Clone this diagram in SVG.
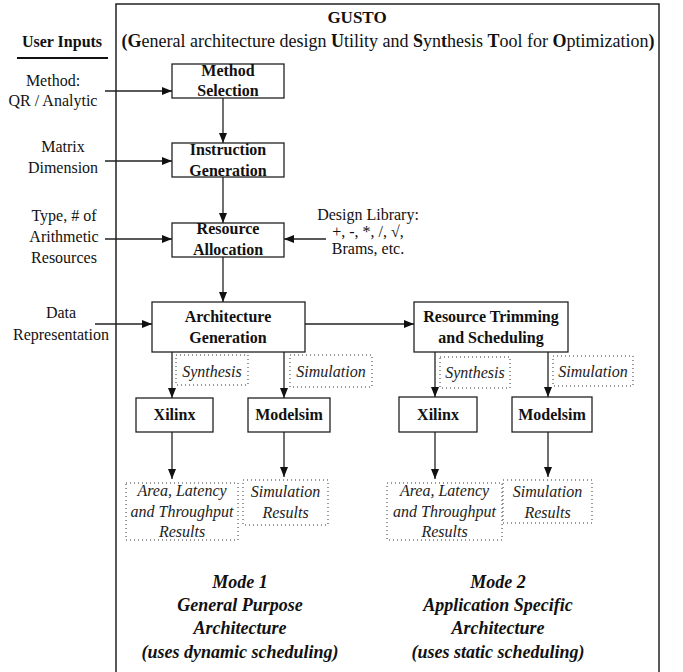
<svg xmlns="http://www.w3.org/2000/svg" width="683" height="672" viewBox="0 0 683 672">
<style>
text{font-family:"Liberation Serif","Times New Roman",serif;fill:#111;}
.n{font-size:16px;}
.b{font-size:16px;font-weight:bold;}
.i{font-size:16px;font-style:italic;fill:#222;}
.m{font-size:18px;font-weight:bold;font-style:italic;}
.bx{fill:#fff;stroke:#222;stroke-width:1.3;}
.dot{fill:none;stroke:#333;stroke-width:1;stroke-dasharray:1 3;}
.c{fill:none;stroke:#222;stroke-width:1.3;}
</style>
<defs>
<marker id="ah" markerUnits="userSpaceOnUse" markerWidth="10" markerHeight="8" refX="10" refY="4" orient="auto">
<path d="M0,0 L10,4 L0,8 z" fill="#111"/>
</marker>
</defs>
<rect width="683" height="672" fill="#fff"/>
<path d="M116,673 V4 H659 V673" fill="none" stroke="#222" stroke-width="1.5"/>
<g id="title">
<text x="357" y="23" text-anchor="middle" style="font-size:17px;font-weight:bold">GUSTO</text>
<text x="388" y="47" text-anchor="middle" style="font-size:18px"><tspan font-weight="bold">(G</tspan>eneral architecture design <tspan font-weight="bold">U</tspan>tility and <tspan font-weight="bold">S</tspan>yn<tspan font-weight="bold">t</tspan>hesis <tspan font-weight="bold">T</tspan>ool for <tspan font-weight="bold">O</tspan>ptimization<tspan font-weight="bold">)</tspan></text>
</g>
<g id="user-inputs">
<text x="62" y="47" text-anchor="middle" class="b">User Inputs</text>
<line x1="17" y1="58" x2="108" y2="58" stroke="#111" stroke-width="2"/>
<text x="53" y="86" text-anchor="middle" class="n">Method:</text>
<text x="53" y="106" text-anchor="middle" class="n">QR / Analytic</text>
<text x="63" y="152" text-anchor="middle" class="n">Matrix</text>
<text x="63" y="173" text-anchor="middle" class="n">Dimension</text>
<text x="64" y="221" text-anchor="middle" class="n">Type, # of</text>
<text x="64" y="242" text-anchor="middle" class="n">Arithmetic</text>
<text x="64" y="263" text-anchor="middle" class="n">Resources</text>
<text x="61" y="318" text-anchor="middle" class="n">Data</text>
<text x="61" y="340" text-anchor="middle" class="n">Representation</text>
</g>
<g id="design-library">
<text x="368" y="220" text-anchor="middle" class="n">Design Library:</text>
<text x="368" y="237" text-anchor="middle" class="n">+, -, *, /, √,</text>
<text x="368" y="254" text-anchor="middle" class="n">Brams, etc.</text>
</g>
<g id="method-selection">
<rect x="172" y="64" width="112" height="34" class="bx"/>
<text x="228" y="76" text-anchor="middle" class="b">Method</text>
<text x="228" y="96" text-anchor="middle" class="b">Selection</text>
</g>
<g id="instruction-generation">
<rect x="172" y="143" width="112" height="34" class="bx"/>
<text x="228" y="155" text-anchor="middle" class="b">Instruction</text>
<text x="228" y="176" text-anchor="middle" class="b">Generation</text>
</g>
<g id="resource-allocation">
<rect x="172" y="223" width="112" height="34" class="bx"/>
<text x="228" y="234" text-anchor="middle" class="b">Resource</text>
<text x="228" y="255" text-anchor="middle" class="b">Allocation</text>
</g>
<g id="architecture-generation">
<rect x="152" y="302" width="153" height="50" class="bx"/>
<text x="228" y="322" text-anchor="middle" class="b">Architecture</text>
<text x="228" y="343" text-anchor="middle" class="b">Generation</text>
</g>
<g id="resource-trimming">
<rect x="414" y="302" width="154" height="50" class="bx"/>
<text x="491" y="322" text-anchor="middle" class="b">Resource Trimming</text>
<text x="491" y="343" text-anchor="middle" class="b">and Scheduling</text>
</g>
<g id="synthesis-1">
<rect x="176" y="355" width="72" height="30" class="dot"/>
<text x="212" y="377" text-anchor="middle" class="i">Synthesis</text>
</g>
<g id="simulation-1">
<rect x="290" y="355" width="82" height="32" class="dot"/>
<text x="331" y="377" text-anchor="middle" class="i">Simulation</text>
</g>
<g id="synthesis-2">
<rect x="440" y="357" width="70" height="31" class="dot"/>
<text x="475" y="378" text-anchor="middle" class="i">Synthesis</text>
</g>
<g id="simulation-2">
<rect x="553" y="356" width="80" height="30" class="dot"/>
<text x="593" y="377" text-anchor="middle" class="i">Simulation</text>
</g>
<g id="xilinx-1">
<rect x="136" y="398" width="77" height="34" class="bx"/>
<text x="174.5" y="420" text-anchor="middle" class="b">Xilinx</text>
</g>
<g id="modelsim-1">
<rect x="248" y="398" width="82" height="34" class="bx"/>
<text x="289" y="420" text-anchor="middle" class="b">Modelsim</text>
</g>
<g id="xilinx-2">
<rect x="399" y="397" width="78" height="35" class="bx"/>
<text x="438" y="420" text-anchor="middle" class="b">Xilinx</text>
</g>
<g id="modelsim-2">
<rect x="512" y="397" width="80" height="35" class="bx"/>
<text x="552" y="420" text-anchor="middle" class="b">Modelsim</text>
</g>
<g id="area-results-1">
<rect x="126" y="483" width="112" height="57" class="dot"/>
<text x="182" y="496" text-anchor="middle" class="i">Area, Latency</text>
<text x="182" y="517" text-anchor="middle" class="i">and Throughput</text>
<text x="182" y="537" text-anchor="middle" class="i">Results</text>
</g>
<g id="sim-results-1">
<rect x="243" y="480" width="85" height="45" class="dot"/>
<text x="285.5" y="497" text-anchor="middle" class="i">Simulation</text>
<text x="285.5" y="518" text-anchor="middle" class="i">Results</text>
</g>
<g id="area-results-2">
<rect x="387" y="483" width="115" height="57" class="dot"/>
<text x="444.5" y="496" text-anchor="middle" class="i">Area, Latency</text>
<text x="444.5" y="517" text-anchor="middle" class="i">and Throughput</text>
<text x="444.5" y="537" text-anchor="middle" class="i">Results</text>
</g>
<g id="sim-results-2">
<rect x="503" y="480" width="89" height="43" class="dot"/>
<text x="547.5" y="497" text-anchor="middle" class="i">Simulation</text>
<text x="547.5" y="518" text-anchor="middle" class="i">Results</text>
</g>
<g id="mode-1">
<text x="240" y="588" text-anchor="middle" class="m">Mode 1</text>
<text x="240" y="611" text-anchor="middle" class="m">General Purpose</text>
<text x="240" y="634" text-anchor="middle" class="m">Architecture</text>
<text x="240" y="658" text-anchor="middle" class="m">(uses dynamic scheduling)</text>
</g>
<g id="mode-2">
<text x="498" y="588" text-anchor="middle" class="m">Mode 2</text>
<text x="498" y="611" text-anchor="middle" class="m">Application Specific</text>
<text x="498" y="634" text-anchor="middle" class="m">Architecture</text>
<text x="498" y="658" text-anchor="middle" class="m">(uses static scheduling)</text>
</g>
<g id="connectors">
<line x1="105" y1="91" x2="172" y2="91" class="c" marker-end="url(#ah)"/>
<line x1="105" y1="161" x2="172" y2="161" class="c" marker-end="url(#ah)"/>
<line x1="105" y1="239" x2="172" y2="239" class="c" marker-end="url(#ah)"/>
<line x1="95" y1="324" x2="152" y2="324" class="c" marker-end="url(#ah)"/>
<line x1="326" y1="239" x2="284" y2="239" class="c" marker-end="url(#ah)"/>
<line x1="223" y1="98" x2="223" y2="143" class="c" marker-end="url(#ah)"/>
<line x1="223" y1="177" x2="223" y2="223" class="c" marker-end="url(#ah)"/>
<line x1="223" y1="257" x2="223" y2="302" class="c" marker-end="url(#ah)"/>
<line x1="305" y1="324" x2="414" y2="324" class="c" marker-end="url(#ah)"/>
<line x1="172" y1="352" x2="172" y2="398" class="c" marker-end="url(#ah)"/>
<line x1="284" y1="352" x2="284" y2="398" class="c" marker-end="url(#ah)"/>
<line x1="435" y1="352" x2="435" y2="397" class="c" marker-end="url(#ah)"/>
<line x1="548" y1="352" x2="548" y2="397" class="c" marker-end="url(#ah)"/>
<line x1="172" y1="432" x2="172" y2="479" class="c" marker-end="url(#ah)"/>
<line x1="284" y1="432" x2="284" y2="477" class="c" marker-end="url(#ah)"/>
<line x1="435" y1="432" x2="435" y2="479" class="c" marker-end="url(#ah)"/>
<line x1="548" y1="432" x2="548" y2="477" class="c" marker-end="url(#ah)"/>
</g>
</svg>
